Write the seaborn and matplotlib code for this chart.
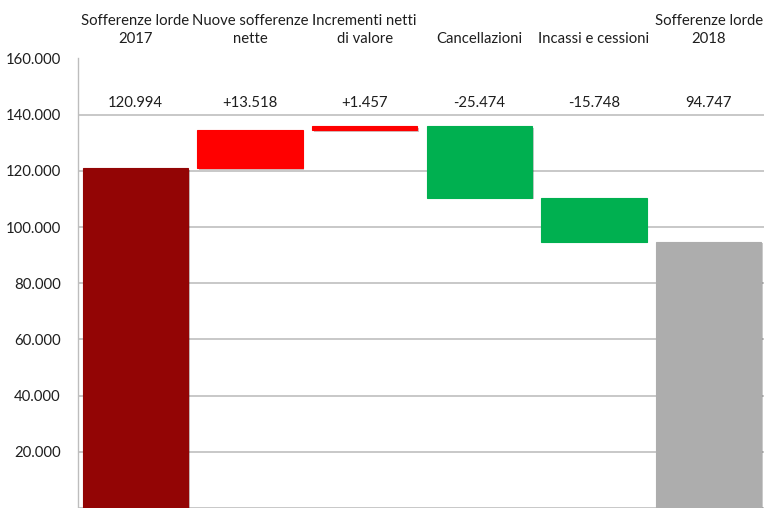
import matplotlib
matplotlib.use("Agg")
import matplotlib.pyplot as plt
import matplotlib.patheffects as pe
from matplotlib.ticker import FuncFormatter, MultipleLocator
import numpy as np
import pandas as pd
import seaborn as sns

# Gross bad loans bridge, 2017 -> 2018 (EUR million)
categories = [
    "Sofferenze lorde\n2017",
    "Nuove sofferenze\nnette",
    "Incrementi netti\ndi valore",
    "Cancellazioni",
    "Incassi e cessioni",
    "Sofferenze lorde\n2018",
]
changes = [120994, 13518, 1457, -25474, -15748, 94747]
is_total = [True, False, False, False, False, True]
colors = ["#930505", "#ff0000", "#ff0000", "#00b050", "#00b050", "#adadad"]


def it_fmt(v, signed=False):
    s = f"{abs(int(round(v))):,}".replace(",", ".")
    if signed:
        return ("+" if v >= 0 else "-") + s
    return ("-" if v < 0 else "") + s


# floating bars: each step starts where the running total stands
bottoms, running = [], 0
for v, tot in zip(changes, is_total):
    if tot:
        bottoms.append(0)
        running = v
    else:
        bottoms.append(running)
        running += v

df = pd.DataFrame({"voce": categories, "delta": changes})

sns.set_style("white")
plt.rcParams["font.family"] = ["Lato", "DejaVu Sans"]
text_color = "#1e1e1e"

fig = plt.figure(figsize=(7.64, 5.08), dpi=100)
ax = fig.add_axes([78 / 764, 0.0, 688 / 764, 449.5 / 508])

sns.barplot(data=df, x="voce", y="delta", bottom=bottoms, width=0.92,
            color=colors[0], saturation=1, errorbar=None, ax=ax,
            linewidth=0.8, edgecolor="none")

shadow = [pe.SimplePatchShadow(offset=(1.2, -1.2), alpha=0.25), pe.Normal()]
for patch, c in zip(ax.patches, colors):
    patch.set_facecolor(c)
    patch.set_edgecolor(c)
    patch.set_path_effects(shadow)

# value labels in a row above the bars
for i, (v, tot) in enumerate(zip(changes, is_total)):
    ax.text(i, 144000, it_fmt(v, signed=not tot), ha="center", va="center",
            fontsize=10.7, color=text_color)

ax.set_xlim(-0.5, 5.5)
ax.set_ylim(0, 160000)
ax.yaxis.set_major_locator(MultipleLocator(20000))
# the zero line sits on the lower edge, so its label is left out
ax.yaxis.set_major_formatter(FuncFormatter(lambda v, p: it_fmt(v) if v > 0 else ""))
ax.set_xlabel("")
ax.set_ylabel("")

ax.xaxis.tick_top()
ax.tick_params(axis="x", top=False, bottom=False, labeltop=True,
               labelbottom=False, length=0, pad=9, labelsize=10.7,
               labelcolor=text_color)
for lab in ax.get_xticklabels():
    lab.set_linespacing(1.35)
ax.tick_params(axis="y", direction="out", length=4.5, width=1,
               color="#bdbdbd", pad=8, labelsize=10.7, labelcolor=text_color)

ax.yaxis.grid(True, color="#c4c4c4", linewidth=1.3)
ax.set_axisbelow(True)
for side in ["top", "right", "bottom"]:
    ax.spines[side].set_visible(False)
ax.spines["left"].set_color("#bdbdbd")
ax.spines["left"].set_linewidth(1)

fig.savefig("out.png", dpi=100)
